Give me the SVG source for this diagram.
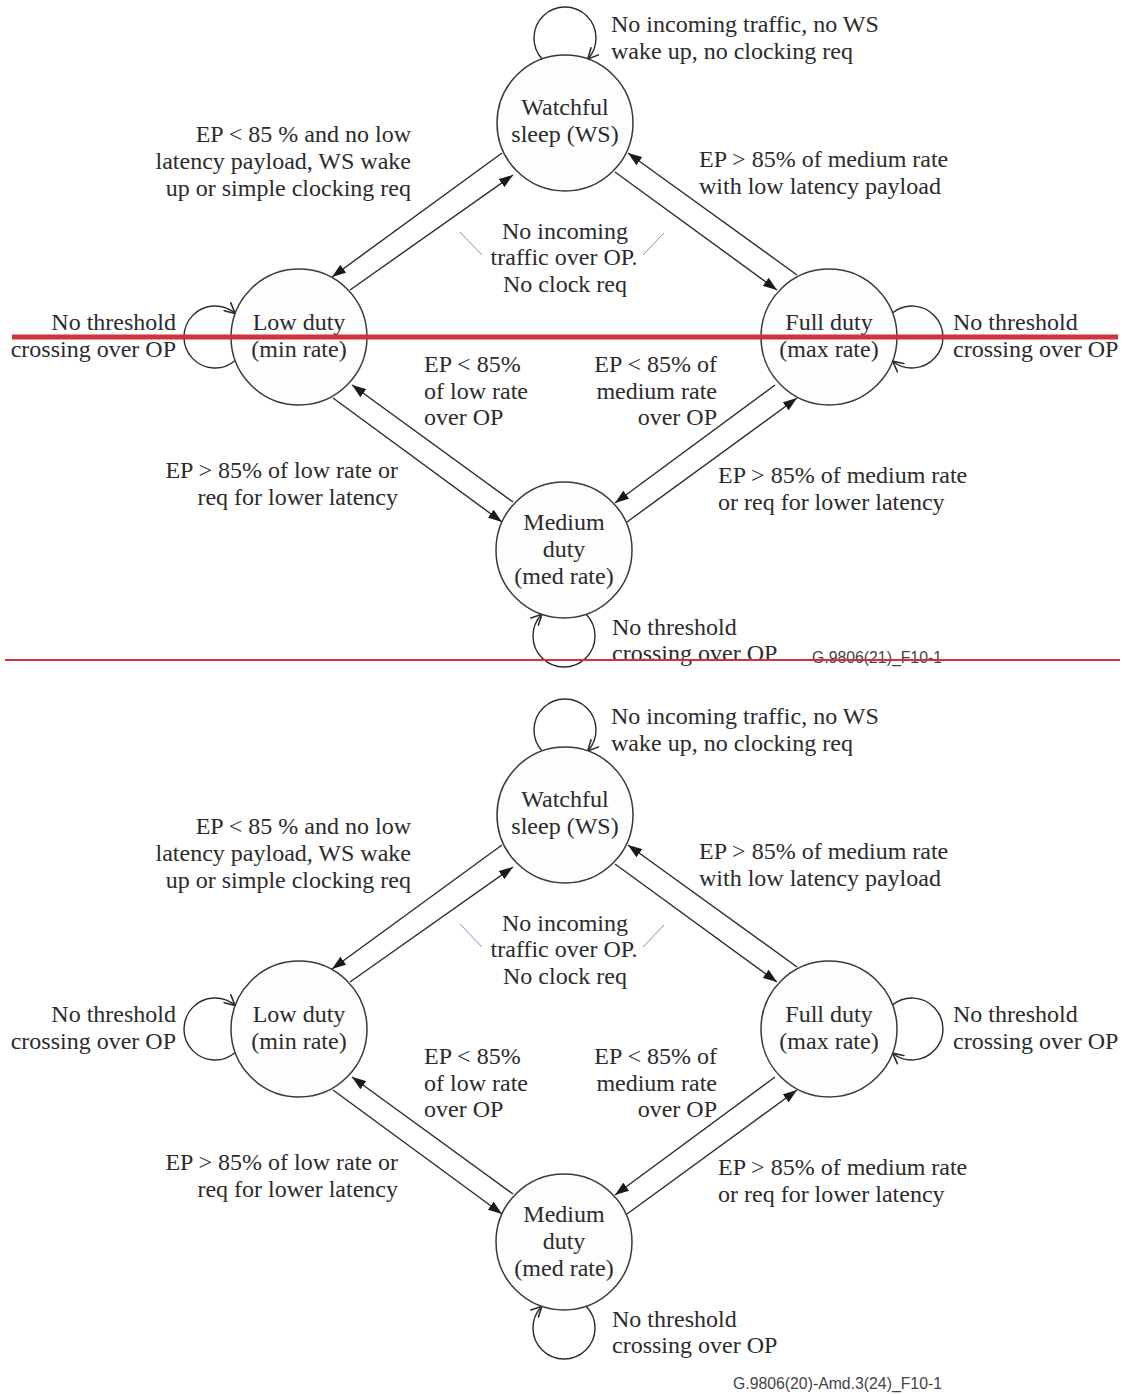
<svg xmlns="http://www.w3.org/2000/svg" width="1126" height="1394" viewBox="0 0 1126 1394">
<style>
text{font-family:"Liberation Serif","Times New Roman",serif;font-size:24px;fill:#2b2b2b}
.m{text-anchor:middle}.e{text-anchor:end}
.lbl{font-family:"Liberation Sans",Arial,sans-serif;font-size:15.8px;fill:#444}
.st{fill:#fdfdfd;stroke:#3a3a3a;stroke-width:1.5}
.c{stroke:#2b2b2b;stroke-width:1.4;fill:none;marker-end:url(#fa)}
.lp{stroke:#2b2b2b;stroke-width:1.4;fill:none;marker-end:url(#oa)}
.bl{stroke:#7d93b5;stroke-width:1}
</style>
<defs>
<marker id="fa" viewBox="0 0 14 10" refX="14" refY="5" markerWidth="14" markerHeight="10" markerUnits="userSpaceOnUse" orient="auto"><path d="M0,0 L14,5 L0,10 z" fill="#1a1a1a"/></marker>
<marker id="oa" viewBox="0 0 12 12" refX="11" refY="6" markerWidth="12" markerHeight="12" markerUnits="userSpaceOnUse" orient="auto"><path d="M0,0.5 L11,6 L0,11.5" fill="none" stroke="#2b2b2b" stroke-width="1.6"/></marker>
</defs>
<rect width="1126" height="1394" fill="#ffffff"/>

<g id="top-diagram">
<g id="top-connectors">
<line class="c" x1="502" y1="153" x2="332" y2="277"/>
<line class="c" x1="350" y1="290" x2="513" y2="175"/>
<line class="c" x1="615" y1="172" x2="777" y2="290"/>
<line class="c" x1="797" y1="275" x2="628" y2="153"/>
<line class="c" x1="333" y1="398" x2="502" y2="522"/>
<line class="c" x1="513" y1="502" x2="352" y2="385"/>
<line class="c" x1="775" y1="385" x2="615" y2="503"/>
<line class="c" x1="627" y1="522" x2="797" y2="398"/>
<path class="lp" d="M542.2,59 A31,31 0 1 1 587.8,59"/>
<path class="lp" d="M235.2,360.5 A31,31 0 1 1 235.2,313.5"/>
<path class="lp" d="M892.6,312.8 A31,31 0 1 1 892.6,361.2"/>
<path class="lp" d="M586.1,614.3 A31,31 0 1 1 541.9,614.3"/>
<line class="bl" x1="460" y1="232" x2="482" y2="255"/>
<line class="bl" x1="643" y1="255" x2="664" y2="233"/>
</g>
<g id="top-ws"><circle class="st" cx="565" cy="123" r="68"/><text class="m" x="565" y="115">Watchful</text><text class="m" x="565" y="142">sleep (WS)</text></g>
<g id="top-low"><circle class="st" cx="299" cy="337" r="68"/><text class="m" x="299" y="330">Low duty</text><text class="m" x="299" y="357">(min rate)</text></g>
<g id="top-full"><circle class="st" cx="829" cy="337" r="68"/><text class="m" x="829" y="330">Full duty</text><text class="m" x="829" y="357">(max rate)</text></g>
<g id="top-med"><circle class="st" cx="564" cy="550" r="68"/><text class="m" x="564" y="530">Medium</text><text class="m" x="564" y="557">duty</text><text class="m" x="564" y="584">(med rate)</text></g>
<g id="top-labels">
<text x="611" y="32">No incoming traffic, no WS</text>
<text x="611" y="59">wake up, no clocking req</text>
<text class="e" x="411" y="142">EP &lt; 85 % and no low</text>
<text class="e" x="411" y="169">latency payload, WS wake</text>
<text class="e" x="411" y="196">up or simple clocking req</text>
<text x="699" y="167">EP &gt; 85% of medium rate</text>
<text x="699" y="194">with low latency payload</text>
<text class="m" x="565" y="239">No incoming</text>
<text class="m" x="564" y="265">traffic over OP.</text>
<text class="m" x="565" y="292">No clock req</text>
<text class="e" x="176" y="330">No threshold</text>
<text class="e" x="176" y="357">crossing over OP</text>
<text x="953" y="330">No threshold</text>
<text x="953" y="357">crossing over OP</text>
<text x="424" y="372">EP &lt; 85%</text>
<text x="424" y="399">of low rate</text>
<text x="424" y="425">over OP</text>
<text class="e" x="717" y="372">EP &lt; 85% of</text>
<text class="e" x="717" y="399">medium rate</text>
<text class="e" x="717" y="425">over OP</text>
<text class="e" x="398" y="478">EP &gt; 85% of low rate or</text>
<text class="e" x="398" y="505">req for lower latency</text>
<text x="718" y="483">EP &gt; 85% of medium rate</text>
<text x="718" y="510">or req for lower latency</text>
<text x="612" y="635">No threshold</text>
<text x="612" y="661">crossing over OP</text>
<text class="lbl" x="812" y="663">G.9806(21)_F10-1</text>
</g>
</g>

<g id="red-lines">
<line x1="12" y1="337" x2="1118" y2="337" stroke="#d0333b" stroke-width="5"/>
<line x1="5" y1="660" x2="1120" y2="660" stroke="#d0333b" stroke-width="2"/>
</g>

<g id="bottom-diagram" transform="translate(0,692)">
<g id="bot-connectors">
<line class="c" x1="502" y1="153" x2="332" y2="277"/>
<line class="c" x1="350" y1="290" x2="513" y2="175"/>
<line class="c" x1="615" y1="172" x2="777" y2="290"/>
<line class="c" x1="797" y1="275" x2="628" y2="153"/>
<line class="c" x1="333" y1="398" x2="502" y2="522"/>
<line class="c" x1="513" y1="502" x2="352" y2="385"/>
<line class="c" x1="775" y1="385" x2="615" y2="503"/>
<line class="c" x1="627" y1="522" x2="797" y2="398"/>
<path class="lp" d="M542.2,59 A31,31 0 1 1 587.8,59"/>
<path class="lp" d="M235.2,360.5 A31,31 0 1 1 235.2,313.5"/>
<path class="lp" d="M892.6,312.8 A31,31 0 1 1 892.6,361.2"/>
<path class="lp" d="M586.1,614.3 A31,31 0 1 1 541.9,614.3"/>
<line class="bl" x1="460" y1="232" x2="482" y2="255"/>
<line class="bl" x1="643" y1="255" x2="664" y2="233"/>
</g>
<g id="bot-ws"><circle class="st" cx="565" cy="123" r="68"/><text class="m" x="565" y="115">Watchful</text><text class="m" x="565" y="142">sleep (WS)</text></g>
<g id="bot-low"><circle class="st" cx="299" cy="337" r="68"/><text class="m" x="299" y="330">Low duty</text><text class="m" x="299" y="357">(min rate)</text></g>
<g id="bot-full"><circle class="st" cx="829" cy="337" r="68"/><text class="m" x="829" y="330">Full duty</text><text class="m" x="829" y="357">(max rate)</text></g>
<g id="bot-med"><circle class="st" cx="564" cy="550" r="68"/><text class="m" x="564" y="530">Medium</text><text class="m" x="564" y="557">duty</text><text class="m" x="564" y="584">(med rate)</text></g>
<g id="bot-labels">
<text x="611" y="32">No incoming traffic, no WS</text>
<text x="611" y="59">wake up, no clocking req</text>
<text class="e" x="411" y="142">EP &lt; 85 % and no low</text>
<text class="e" x="411" y="169">latency payload, WS wake</text>
<text class="e" x="411" y="196">up or simple clocking req</text>
<text x="699" y="167">EP &gt; 85% of medium rate</text>
<text x="699" y="194">with low latency payload</text>
<text class="m" x="565" y="239">No incoming</text>
<text class="m" x="564" y="265">traffic over OP.</text>
<text class="m" x="565" y="292">No clock req</text>
<text class="e" x="176" y="330">No threshold</text>
<text class="e" x="176" y="357">crossing over OP</text>
<text x="953" y="330">No threshold</text>
<text x="953" y="357">crossing over OP</text>
<text x="424" y="372">EP &lt; 85%</text>
<text x="424" y="399">of low rate</text>
<text x="424" y="425">over OP</text>
<text class="e" x="717" y="372">EP &lt; 85% of</text>
<text class="e" x="717" y="399">medium rate</text>
<text class="e" x="717" y="425">over OP</text>
<text class="e" x="398" y="478">EP &gt; 85% of low rate or</text>
<text class="e" x="398" y="505">req for lower latency</text>
<text x="718" y="483">EP &gt; 85% of medium rate</text>
<text x="718" y="510">or req for lower latency</text>
<text x="612" y="635">No threshold</text>
<text x="612" y="661">crossing over OP</text>
<text class="lbl" x="733" y="697">G.9806(20)-Amd.3(24)_F10-1</text>
</g>
</g>
</svg>
